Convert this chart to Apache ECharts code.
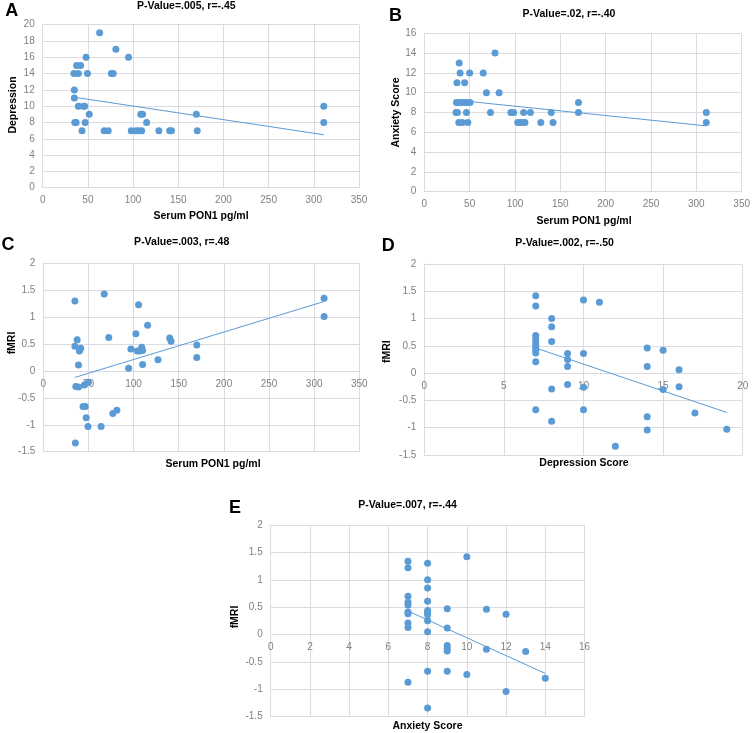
<!DOCTYPE html>
<html>
<head>
<meta charset="utf-8">
<script src="https://cdn.jsdelivr.net/npm/echarts@6/dist/echarts.min.js"></script>
<style>
html,body{margin:0;padding:0;background:#fff;}
#c{width:753px;height:733px;}
</style>
</head>
<body>
<div id="c"></div>
<script>
// ---- Panel A: Serum PON1 vs Depression ----
const aX = [63, 81, 95, 48, 37.5, 42, 34.5, 39.5, 49.5, 76, 78, 35, 35, 39.5, 45, 46.5, 51.5, 108.5, 110.5, 170, 35.5, 37, 47, 115, 43.5, 68, 72.5, 98, 103, 106, 109.5, 128.5, 140.5, 142.5, 171, 311, 311];
const aY = [19, 17, 16, 16, 15, 15, 14, 14, 14, 14, 14, 12, 11, 10, 10, 10, 9, 9, 9, 9, 8, 8, 8, 8, 7, 7, 7, 7, 7, 7, 7, 7, 7, 7, 7, 10, 8];
const aTrendX = [35, 311];
const aTrendY = [11.1, 6.5];

// ---- Panel B: Serum PON1 vs Anxiety ----
const bX = [78, 38.5, 39.5, 50, 65, 36, 44.5, 68.5, 82.5, 35.5, 38, 41, 44, 47, 50.5, 170, 35, 36.5, 46.5, 73, 95.5, 98.5, 109.5, 117, 140, 170, 311, 38, 42, 48, 103, 106, 108.5, 111, 128.5, 142, 311];
const bY = [14, 13, 12, 12, 12, 11, 11, 10, 10, 9, 9, 9, 9, 9, 9, 9, 8, 8, 8, 8, 8, 8, 8, 8, 8, 8, 8, 7, 7, 7, 7, 7, 7, 7, 7, 7, 7];
const bTrendX = [35, 311];
const bTrendY = [9.25, 6.65];

// ---- Panel C: Serum PON1 vs fMRI ----
const cX = [35, 67.5, 105.5, 115.5, 102.5, 72.5, 37.5, 35, 41.5, 40, 39, 97, 104, 107, 109, 110, 110, 127, 94.5, 140, 141.5, 170, 170, 36, 39, 45.5, 50, 44, 46.5, 47.5, 49.5, 64, 77, 81.5, 35.5, 311, 311];
const cY = [1.30, 1.43, 1.23, 0.85, 0.69, 0.62, 0.58, 0.46, 0.42, 0.37, 0.11, 0.41, 0.37, 0.37, 0.44, 0.38, 0.12, 0.21, 0.05, 0.61, 0.55, 0.48, 0.25, -0.29, -0.30, -0.26, -0.21, -0.66, -0.66, -0.87, -1.03, -1.03, -0.79, -0.73, -1.34, 1.35, 1.01];
const cTrendX = [35, 311];
const cTrendY = [-0.12, 1.29];

// ---- Panel D: Depression vs fMRI ----
const dX = [7, 7, 7, 7, 7, 7, 7, 7, 7, 7, 7, 8, 8, 8, 8, 8, 9, 9, 9, 9, 10, 10, 10, 10, 11, 12, 14, 14, 14, 14, 15, 15, 16, 16, 17, 19];
const dY = [1.42, 1.23, 0.69, 0.63, 0.57, 0.51, 0.46, 0.42, 0.37, 0.21, -0.67, 1.00, 0.85, 0.58, -0.29, -0.88, 0.36, 0.25, 0.12, -0.21, 1.34, 0.36, -0.26, -0.67, 1.30, -1.34, 0.46, 0.12, -0.80, -1.04, 0.42, -0.30, 0.06, -0.25, -0.73, -1.03];
const dTrendX = [7, 19];
const dTrendY = [0.46, -0.72];

// ---- Panel E: Anxiety vs fMRI ----
const eX = [7, 7, 7, 7, 7, 7, 7, 7, 7, 7, 8, 8, 8, 8, 8, 8, 8, 8, 8, 8, 8, 9, 9, 9, 9, 9, 9, 10, 10, 11, 11, 12, 12, 13, 14];
const eY = [1.34, 1.22, 0.70, 0.59, 0.54, 0.41, 0.38, 0.21, 0.13, -0.87, 1.30, 1.00, 0.85, 0.61, 0.44, 0.40, 0.36, 0.25, 0.05, -0.67, -1.34, 0.47, 0.12, -0.20, -0.26, -0.30, -0.67, 1.42, -0.73, 0.46, -0.27, 0.37, -1.04, -0.31, -0.80];
const eTrendX = [7, 14];
const eTrendY = [0.43, -0.71];

// ---- axis ranges [min, max, interval] ----
const xRangePON = [0, 350, 50];
const xRangeDep = [0, 20, 5];
const xRangeAnx = [0, 16, 2];
const yRangeDep = [0, 20, 2];
const yRangeAnx = [0, 16, 2];
const yRangeFMRI = [-1.5, 2, 0.5];

// ---- texts ----
const panelLetters = ['A', 'B', 'C', 'D', 'E'];
const panelTitles = ['P-Value=.005, r=-.45', 'P-Value=.02, r=-.40', 'P-Value=.003, r=.48', 'P-Value=.002, r=-.50', 'P-Value=.007, r=-.44'];
const xTitles = ['Serum PON1 pg/ml', 'Serum PON1 pg/ml', 'Serum PON1 pg/ml', 'Depression Score', 'Anxiety Score'];
const yTitles = ['Depression', 'Anxiety Score', 'fMRI', 'fMRI', 'fMRI'];

const BLUE = '#5B9BD5';
const GRID = '#D9DDE3';
const LABEL = '#808080';
const FONT = "'Liberation Sans', Arial, sans-serif";

const grids = [
  {left: 42.7, top: 24.7, width: 316.3, height: 163},
  {left: 424.3, top: 33.3, width: 318.4, height: 158.4},
  {left: 43.3, top: 263.3, width: 316, height: 188.4},
  {left: 424.3, top: 264, width: 318.4, height: 191},
  {left: 270.7, top: 525, width: 313.8, height: 191.7}
];

const xRanges = [xRangePON, xRangePON, xRangePON, xRangeDep, xRangeAnx];
const yRanges = [yRangeDep, yRangeAnx, yRangeFMRI, yRangeFMRI, yRangeFMRI];

function mkAxis(r, i, isX) {
  const ax = {
    type: 'value', gridIndex: i, min: r[0], max: r[1], interval: r[2],
    axisLine: {show: true, onZero: false, lineStyle: {color: GRID, width: 1}},
    axisTick: {show: false},
    splitLine: {show: true, lineStyle: {color: GRID, width: 1}},
    axisLabel: {color: LABEL, fontSize: 10, fontFamily: FONT, margin: 8}
  };
  if (isX) {
    // place the x axis on the y=0 line of this panel
    const yr = yRanges[i];
    const frac = (0 - yr[0]) / (yr[1] - yr[0]);
    ax.position = 'bottom';
    ax.offset = -frac * grids[i].height;
  }
  return ax;
}

const xs = [aX, bX, cX, dX, eX], ys = [aY, bY, cY, dY, eY];
const txs = [aTrendX, bTrendX, cTrendX, dTrendX, eTrendX], tys = [aTrendY, bTrendY, cTrendY, dTrendY, eTrendY];

const series = [];
for (let i = 0; i < 5; i++) {
  series.push({
    type: 'scatter', xAxisIndex: i, yAxisIndex: i, symbolSize: 7,
    itemStyle: {color: BLUE, opacity: 1},
    data: xs[i].map((x, k) => [x, ys[i][k]]), z: 3
  });
  series.push({
    type: 'line', xAxisIndex: i, yAxisIndex: i, symbol: 'none',
    lineStyle: {color: BLUE, width: 1},
    data: txs[i].map((x, k) => [x, tys[i][k]]), z: 4, silent: true
  });
}

// text positions [x, y]
const letterPos = [[11.7, 11], [395.5, 16], [8, 245], [388.3, 246], [235, 508]];
const titlePos = [[186.3, 6], [569, 14], [181.7, 241.7], [564.5, 243.3], [407.5, 505]];
const xTitlePos = [[201, 216], [584, 221], [213, 464], [584, 463.3], [427.5, 726]];
const yTitlePos = [[13.5, 105], [396, 112.5], [12.3, 343], [386.8, 351.7], [235, 617]];

const graphic = [];
function txt(p, text, font, rot) {
  graphic.push({
    type: 'text', x: p[0], y: p[1], rotation: rot || 0,
    style: {text: text, font: font, fill: '#000', align: 'center', verticalAlign: 'middle', textAlign: 'center', textVerticalAlign: 'middle'}
  });
}
for (let i = 0; i < 5; i++) {
  txt(letterPos[i], panelLetters[i], 'bold 18px ' + FONT);
  txt(titlePos[i], panelTitles[i], 'bold 10.5px ' + FONT);
  txt(xTitlePos[i], xTitles[i], 'bold 10.5px ' + FONT);
  txt(yTitlePos[i], yTitles[i], 'bold 10.5px ' + FONT, Math.PI / 2);
}

const chart = echarts.init(document.getElementById('c'), null, {renderer: 'canvas'});
chart.setOption({
  backgroundColor: '#fff',
  animation: false,
  grid: grids,
  xAxis: xRanges.map((r, i) => mkAxis(r, i, true)),
  yAxis: yRanges.map((r, i) => mkAxis(r, i, false)),
  series: series,
  graphic: graphic
});
</script>
</body>
</html>
